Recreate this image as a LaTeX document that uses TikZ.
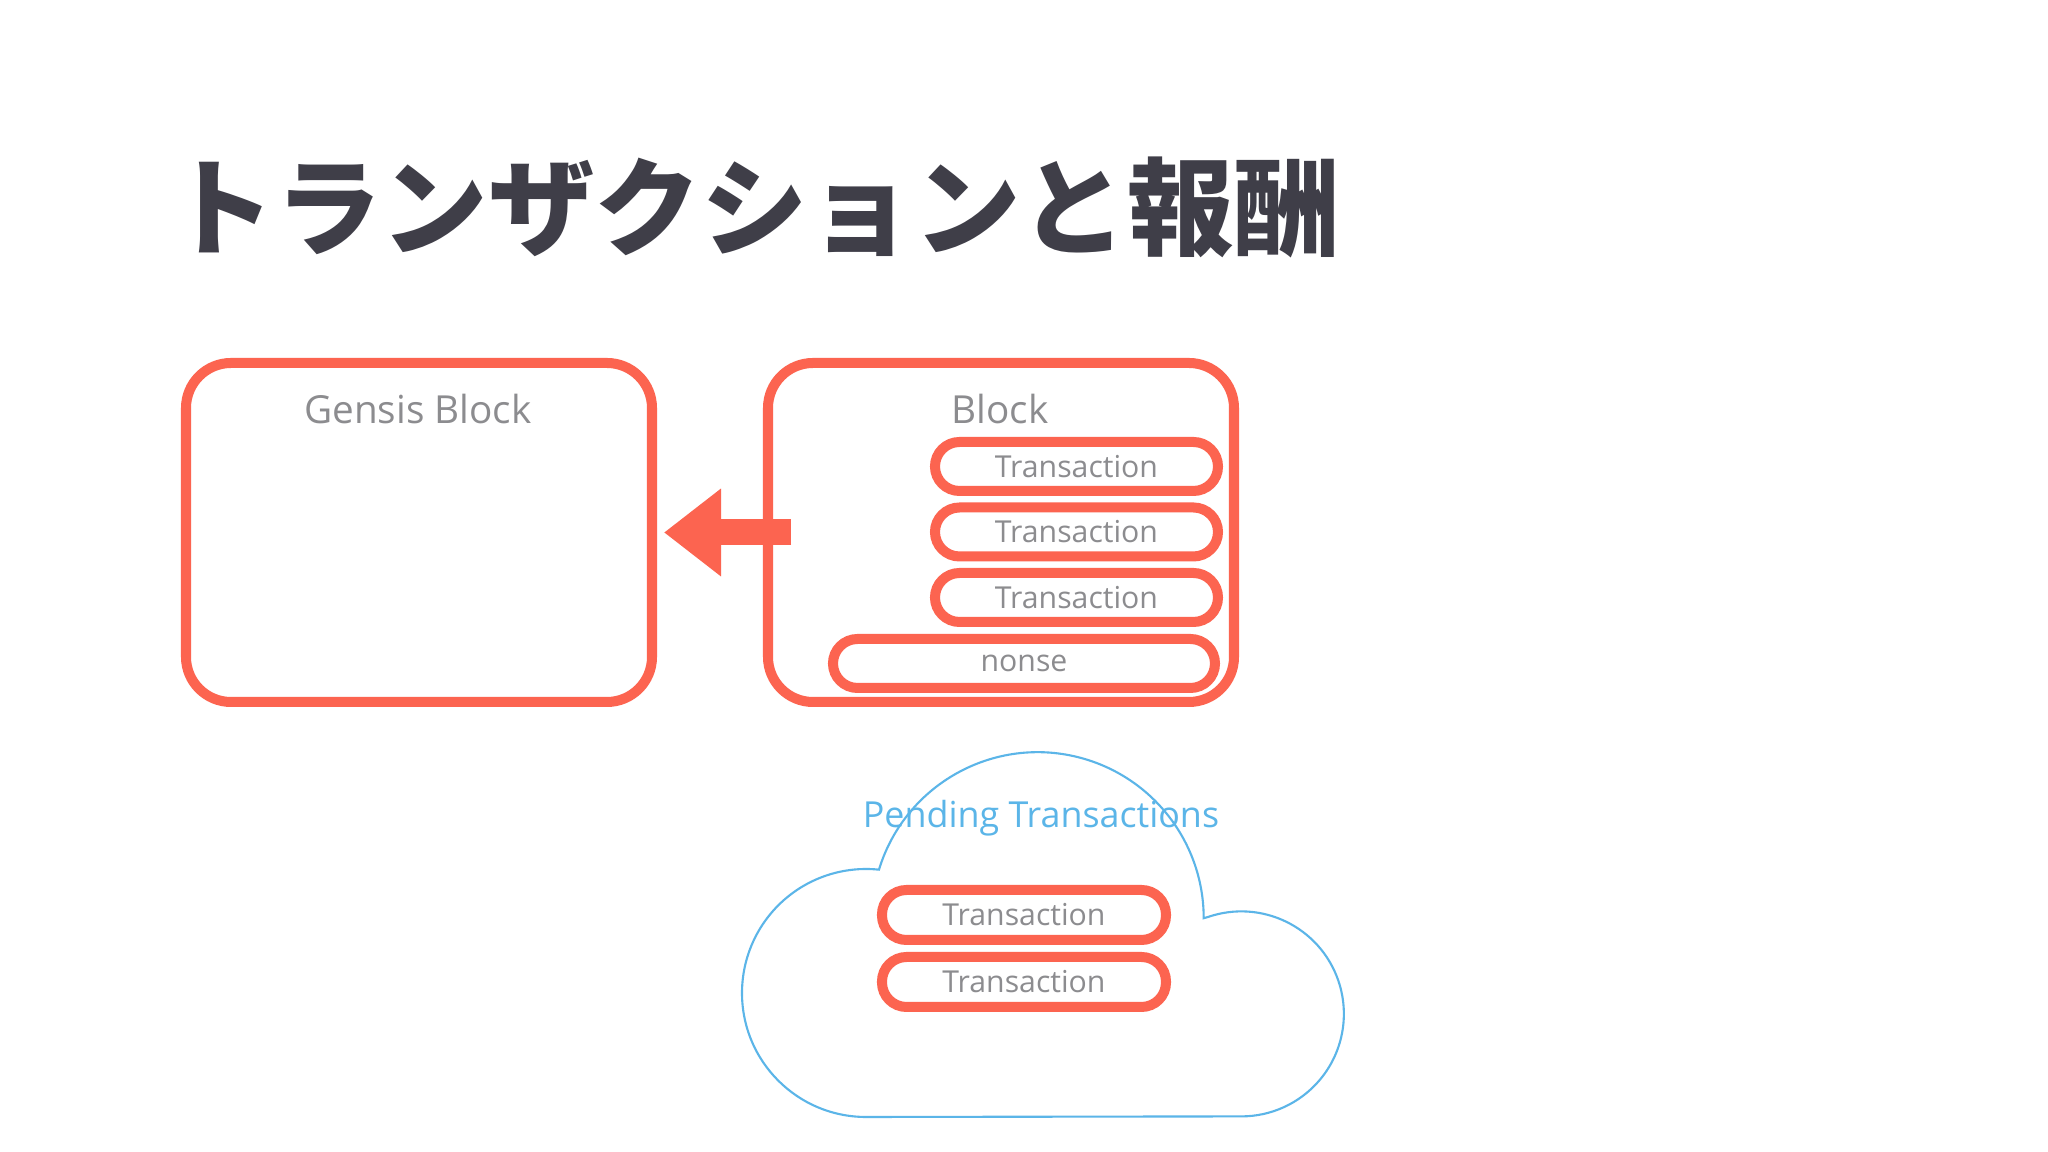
\documentclass[tikz,border=0pt]{standalone}
\usepackage{fontspec}
\setmainfont{Open Sans}
\newfontfamily\jpfont{Noto Sans CJK JP}
\usetikzlibrary{positioning,arrows.meta}
\definecolor{blockred}{HTML}{FC6450}
\definecolor{labelgray}{HTML}{8C8C8F}
\definecolor{titlegray}{HTML}{3F3E48}
\definecolor{cloudblue}{HTML}{5BB5E8}
\tikzset{
  box/.style={draw=blockred,line width=2.85pt,rounded corners=0.45cm,minimum width=4.66cm,minimum height=3.39cm,outer sep=0pt},
  txpill/.style={draw=blockred,line width=2.85pt,rounded corners=0.245cm,minimum width=2.83cm,minimum height=0.49cm,inner sep=0pt,outer sep=0pt,text=labelgray,font=\fontsize{8.6}{10}\selectfont},
  boxlabel/.style={text=labelgray,font=\fontsize{11}{12}\selectfont,inner sep=0pt}
}

\begin{document}
\begin{tikzpicture}
  \fill[white] (0,0) rectangle (20.48,11.52);
  \useasboundingbox (0,0) rectangle (20.48,11.52);
  \node[anchor=base west,inner sep=0pt,text=titlegray,font=\jpfont\bfseries\fontsize{30.3}{34}\selectfont] (title) at (1.68,9.04) {トランザクションと報酬};

  \node[box] (gen) at (4.19,6.195) {};
  \node[box] (blk) at (10.01,6.195) {};
  \node[boxlabel] (genlbl) at (4.18,7.43) {Gensis Block};
  \node[boxlabel] (blklbl) at (10.00,7.43) {Block};

  \node[txpill] (t1) at (10.765,6.855) {Transaction};
  \node[txpill,below=0.165cm of t1] (t2) {Transaction};
  \node[txpill,below=0.165cm of t2] (t3) {Transaction};
  \node[txpill,minimum width=3.82cm] (nonse) at (10.24,4.885) {nonse};

  \draw[blockred,line width=0.26cm,-{Triangle[length=0.57cm,width=0.84cm]}] ([xshift=0.23cm]blk.west) -- ([xshift=0.12cm]gen.east);

  \node[text=cloudblue,inner sep=0pt,font=\fontsize{10.2}{12}\selectfont] (pendlbl) at (10.41,3.34) {Pending Transactions};
  \node[txpill,minimum width=2.84cm,minimum height=0.50cm] (p1) at (10.24,2.37) {Transaction};
  \node[txpill,minimum width=2.84cm,minimum height=0.50cm,below=0.17cm of p1] (p2) {Transaction};

  \draw[cloudblue,line width=0.6pt] (8.66,0.35) arc[start angle=270,end angle=84,radius=1.24]
    arc[start angle=163,end angle=0,radius=1.66] -- (12.08,2.35)
    arc[start angle=109,end angle=-90,radius=1.025] -- cycle;
\end{tikzpicture}
\end{document}
